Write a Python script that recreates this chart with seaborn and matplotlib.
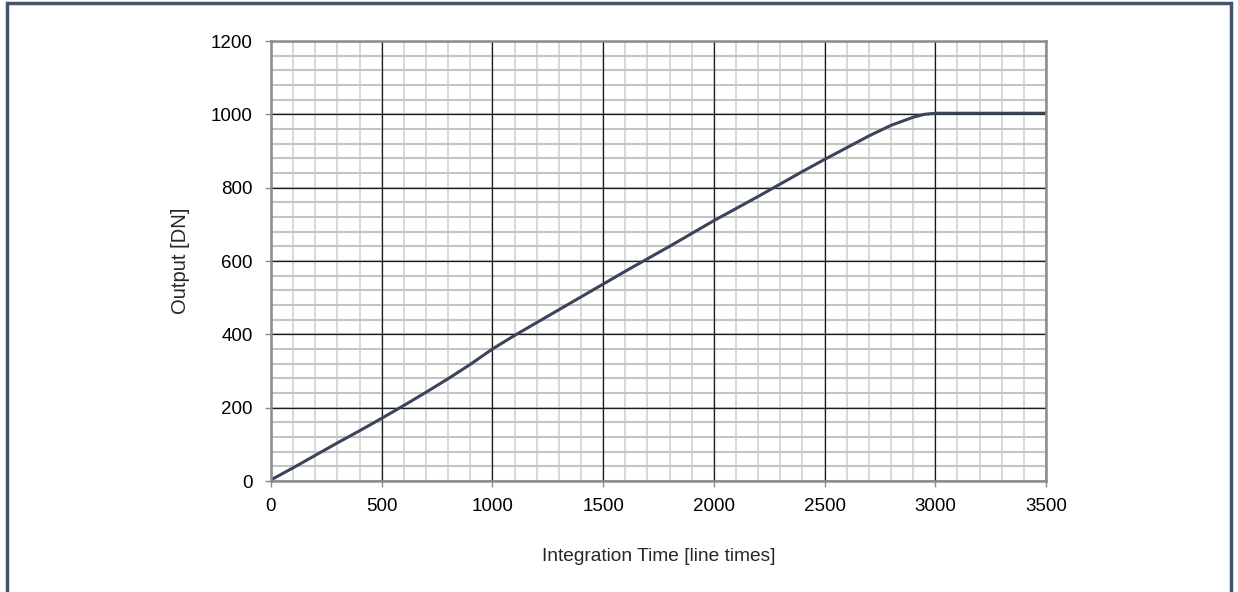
import matplotlib
matplotlib.use("Agg")
import matplotlib.pyplot as plt
import seaborn as sns
import pandas as pd
from matplotlib.patches import Rectangle
from matplotlib.ticker import MultipleLocator

integration_time = [0, 100, 200, 300, 400, 500, 600, 700, 800, 900, 1000,
                    1100, 1200, 1300, 1400, 1500, 1600, 1700, 1800, 1900, 2000,
                    2100, 2200, 2300, 2400, 2500, 2600, 2700, 2800, 2900, 2950, 3000,
                    3100, 3200, 3300, 3400, 3500]
output_dn = [3, 36, 70, 104, 137, 171, 206, 242, 279, 318, 360,
             397, 432, 467, 502, 537, 572, 606, 640, 675, 710,
             743, 776, 810, 844, 877, 909, 941, 970, 992, 1000, 1003,
             1003, 1003, 1003, 1003, 1003]

df = pd.DataFrame({"x": integration_time, "y": output_dn})

sns.set_theme(style="white")
plt.rcParams["font.family"] = ["Liberation Sans", "DejaVu Sans"]

fig = plt.figure(figsize=(12.38, 5.92), dpi=100)
pos = [271/1238, 1-481/592, (1046-271)/1238, (481-41)/592]

# background axes carrying only the minor grid
bg = fig.add_axes(pos, zorder=0)
bg.set_xlim(0, 3500)
bg.set_ylim(0, 1200)
bg.xaxis.set_major_locator(MultipleLocator(100))
bg.yaxis.set_major_locator(MultipleLocator(40))
bg.grid(True, axis="x", color="#d6d6d6", linewidth=1.3)
bg.grid(True, axis="y", color="#c4c4c4", linewidth=1.5)
bg.tick_params(length=0, labelleft=False, labelbottom=False)
for s in bg.spines.values():
    s.set_visible(False)

ax = fig.add_axes(pos, zorder=1)
ax.patch.set_alpha(0)
sns.lineplot(data=df, x="x", y="y", ax=ax, color="#3A4559", linewidth=2.2)

ax.set_xlim(0, 3500)
ax.set_ylim(0, 1200)
ax.xaxis.set_major_locator(MultipleLocator(500))
ax.yaxis.set_major_locator(MultipleLocator(200))
ax.grid(which="major", color="#1a1a1a", linewidth=0.9)
ax.set_axisbelow(True)

for s in ["left", "top", "right", "bottom"]:
    ax.spines[s].set_color("#8c8c8c")
    ax.spines[s].set_linewidth(1.8)

ax.tick_params(axis="both", which="major", labelsize=13.5, colors="#000000")
ax.tick_params(axis="y", which="major", length=4, width=1, color="#8c8c8c",
               direction="out", left=True, pad=9)
ax.tick_params(axis="x", which="major", length=4, width=1, color="#8c8c8c",
               direction="out", bottom=True, pad=8)

ax.set_xlabel("Integration Time [line times]", fontsize=13.8, labelpad=24)
ax.set_ylabel("Output [DN]", fontsize=14.5, labelpad=15)

fig.patches.append(Rectangle((7/1238, -0.05), (1231-7)/1238, 1.05 - 3/592,
                             transform=fig.transFigure, fill=False,
                             edgecolor="#44546A", linewidth=2.5))

fig.savefig("out.png", dpi=100)
